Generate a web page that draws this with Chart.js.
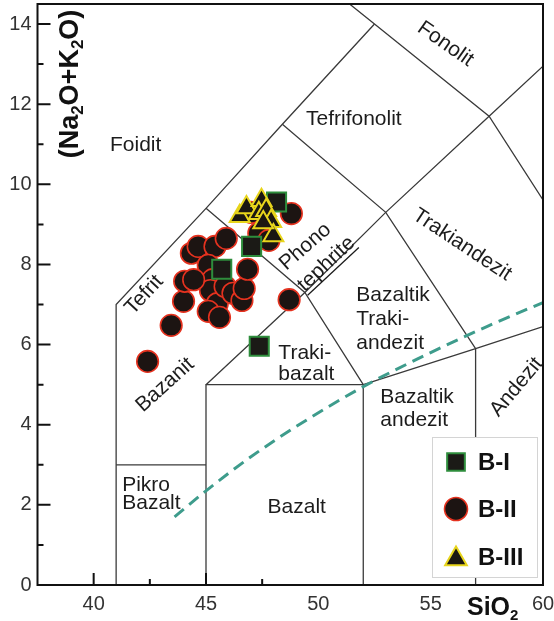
<!DOCTYPE html>
<html>
<head>
<meta charset="utf-8">
<title>TAS</title>
<script src="https://cdn.jsdelivr.net/npm/chart.js@4/dist/chart.umd.min.js"></script>
<style>
  html, body { margin: 0; padding: 0; background: #fff; }
  #c { display: block; }
</style>
</head>
<body>
<canvas id="c" width="554" height="621"></canvas>
<script>
// Total alkali vs silica (wt%) for three basalt groups
const groupNames = ['B-I', 'B-II', 'B-III'];

const bISiO2 = [47.37, 45.70, 47.03, 48.14];
const bIAlk  = [5.96, 7.88, 8.45, 9.56];

const bIISiO2 = [42.40, 43.45, 44.00, 44.05, 44.35, 44.65, 45.40, 45.90, 45.10, 45.30,
                 45.20, 45.50, 45.10, 45.60, 45.85, 46.20, 46.60, 46.70, 46.85, 48.70,
                 48.80, 47.35, 47.80, 47.00, 44.45];
const bIIAlk  = [5.58, 6.48, 7.08, 7.58, 8.28, 8.45, 8.45, 8.65, 7.98, 7.62,
                 7.35, 7.02, 6.83, 6.68, 7.45, 7.28, 7.10, 7.40, 7.88, 7.12,
                 9.27, 8.78, 8.60, 9.30, 7.62];

const bIIISiO2 = [46.50, 46.80, 47.47, 47.35, 47.68, 47.90, 48.00, 47.55];
const bIIIAlk  = [9.20, 9.42, 9.60, 9.28, 9.35, 9.08, 8.72, 9.05];

// Axis ticks
const xTicks = [40, 45, 50, 55, 60];
const xTickMarks = [40, 45];
const xMinorMarks = [42.5, 47.5];
const yTicks = [0, 2, 4, 6, 8, 10, 12, 14];
const yMinorMarks = [1, 3, 5, 7, 9, 11, 13];

// Field boundaries of the TAS classification (SiO2, Na2O+K2O)
const boundaries = [
  [[41, 0], [41, 7], [45, 9.4], [48.4, 11.5], [52.5, 14]],
  [[41, 3], [45, 3]],
  [[45, 0], [45, 5], [52, 5], [52, 0]],
  [[45, 5], [49.4, 7.3], [53, 9.3], [57.6, 11.7], [60, 12.95]],
  [[45, 9.4], [49.4, 7.3], [52, 5]],
  [[48.4, 11.5], [53, 9.3], [57, 5.9]],
  [[52, 5], [57, 5.9], [60, 6.45]],
  [[57, 0], [57, 5.9]],
  [[51.39, 14.5], [52.5, 14], [57.6, 11.7], [60, 9.61]]
];

// Alkaline / subalkaline dividing curve
const divideSiO2 = [43.6, 45.0, 47.0, 49.0, 52.0, 55.0, 57.5, 60.0];
const divideAlk  = [1.70, 2.35, 3.20, 3.95, 4.95, 5.80, 6.45, 7.05];

// Field names, placed in data units
const fieldNames = [
  { text: 'Foidit', x: 41.87, y: 10.98 },
  { text: 'Tefrifonolit', x: 51.58, y: 11.63 },
  { text: 'Fonolit', x: 55.66, y: 13.50, rot: 35 },
  { text: 'Trakiandezit', x: 56.40, y: 8.49, rot: 33.5 },
  { text: 'Phono', x: 49.42, y: 8.44, rot: -41 },
  { text: 'tephrite', x: 50.36, y: 8.01, rot: -43, underline: true },
  { text: 'Bazaltik', x: 51.69, y: 7.24, align: 'left' },
  { text: 'Traki-', x: 51.69, y: 6.64, align: 'left' },
  { text: 'andezit', x: 51.69, y: 6.04, align: 'left' },
  { text: 'Traki-', x: 48.22, y: 5.79, align: 'left' },
  { text: 'bazalt', x: 48.22, y: 5.27, align: 'left' },
  { text: 'Bazanit', x: 43.18, y: 4.99, rot: -42 },
  { text: 'Tefrit', x: 42.25, y: 7.24, rot: -47 },
  { text: 'Pikro', x: 41.27, y: 2.50, align: 'left' },
  { text: 'Bazalt', x: 41.27, y: 2.05, align: 'left' },
  { text: 'Bazalt', x: 49.04, y: 1.95 },
  { text: 'Bazaltik', x: 52.76, y: 4.69, align: 'left' },
  { text: 'andezit', x: 52.76, y: 4.12, align: 'left' },
  { text: 'Andezit', x: 58.82, y: 4.94, rot: -50 }
];

const FONT = '"Liberation Sans", Arial, Helvetica, sans-serif';
const LINE = '#3a3a3a';

const toPoints = (xs, ys) => xs.map((v, i) => ({ x: v, y: ys[i] }));

const markerStyles = [
  { pointStyle: 'rect', pointRadius: 13.5, borderColor: '#2e8d3c', backgroundColor: '#1b1a16', borderWidth: 2 },
  { pointStyle: 'circle', pointRadius: 10.8, borderColor: '#e5321f', backgroundColor: '#1c1412', borderWidth: 1.6 },
  { pointStyle: 'triangle', pointRadius: 11.5, borderColor: '#e8d51c', backgroundColor: '#1b1712', borderWidth: 2 }
];

const groupData = [toPoints(bISiO2, bIAlk), toPoints(bIISiO2, bIIAlk), toPoints(bIIISiO2, bIIIAlk)];
const groupOrder = [1, 2, 0];

const groupDatasets = groupNames.map((name, i) => Object.assign({
  label: name,
  data: groupData[i],
  order: groupOrder[i],
  pointHoverRadius: markerStyles[i].pointRadius
}, markerStyles[i]));

const boundaryDatasets = boundaries.map(line => ({
  type: 'line',
  data: line.map(p => ({ x: p[0], y: p[1] })),
  borderColor: LINE,
  borderWidth: 1.3,
  pointRadius: 0,
  fill: false,
  tension: 0,
  order: 10
}));

const divideDataset = {
  type: 'line',
  data: toPoints(divideSiO2, divideAlk),
  borderColor: '#3e9c8c',
  borderWidth: 3,
  borderDash: [12, 7],
  pointRadius: 0,
  fill: false,
  cubicInterpolationMode: 'monotone',
  order: 9
};

function drawRich(ctx, parts, x, y, bigFont, smallFont, drop) {
  let cx = x;
  parts.forEach(p => {
    ctx.font = p.sub ? smallFont : bigFont;
    ctx.fillText(p.t, cx, y + (p.sub ? drop : 0));
    cx += ctx.measureText(p.t).width;
  });
}

function richWidth(ctx, parts, bigFont, smallFont) {
  let w = 0;
  parts.forEach(p => { ctx.font = p.sub ? smallFont : bigFont; w += ctx.measureText(p.t).width; });
  return w;
}

function drawMarker(ctx, style, cx, cy) {
  ctx.save();
  ctx.fillStyle = style.backgroundColor;
  ctx.strokeStyle = style.borderColor;
  ctx.lineWidth = style.borderWidth;
  ctx.beginPath();
  const r = style.pointRadius;
  if (style.pointStyle === 'rect') {
    const s = r * Math.SQRT1_2;
    ctx.rect(cx - s, cy - s, 2 * s, 2 * s);
  } else if (style.pointStyle === 'circle') {
    ctx.arc(cx, cy, r, 0, Math.PI * 2);
  } else {
    for (let k = 0; k < 3; k++) {
      const ang = k * 2 * Math.PI / 3;
      const px = cx + Math.sin(ang) * r, py = cy - Math.cos(ang) * r;
      if (k === 0) ctx.moveTo(px, py); else ctx.lineTo(px, py);
    }
    ctx.closePath();
  }
  ctx.fill();
  ctx.stroke();
  ctx.restore();
}

const decor = {
  id: 'decor',
  afterDatasetsDraw(chart) {
    const { ctx, chartArea: a, scales } = chart;
    const sx = scales.x, sy = scales.y;
    ctx.save();

    // field names
    ctx.fillStyle = '#1c1c1c';
    ctx.strokeStyle = '#1c1c1c';
    ctx.font = '21px ' + FONT;
    ctx.textBaseline = 'middle';
    fieldNames.forEach(f => {
      ctx.save();
      ctx.translate(sx.getPixelForValue(f.x), sy.getPixelForValue(f.y));
      if (f.rot) ctx.rotate(f.rot * Math.PI / 180);
      ctx.textAlign = f.align || 'center';
      ctx.fillText(f.text, 0, 0);
      if (f.underline) {
        const w = ctx.measureText(f.text).width;
        ctx.lineWidth = 1.3;
        ctx.beginPath();
        ctx.moveTo(-w / 2, 10);
        ctx.lineTo(w / 2, 10);
        ctx.stroke();
      }
      ctx.restore();
    });

    // legend box
    const lx = 432, ly = 437, lw = 105, lh = 140;
    ctx.fillStyle = '#ffffff';
    ctx.fillRect(lx, ly, lw, lh);
    ctx.strokeStyle = '#d4d4d4';
    ctx.lineWidth = 1;
    ctx.strokeRect(lx + 0.5, ly + 0.5, lw, lh);
    const rowY = [462, 509, 557];
    const legendSizes = [12.5, 11.5, 12.5];
    groupNames.forEach((name, i) => {
      const st = Object.assign({}, markerStyles[i], { pointRadius: legendSizes[i] });
      drawMarker(ctx, st, 456, rowY[i] + (i === 2 ? 2 : 0));
      ctx.fillStyle = '#111';
      ctx.font = 'bold 24px ' + FONT;
      ctx.textAlign = 'left';
      ctx.textBaseline = 'middle';
      ctx.fillText(name, 478, rowY[i] + 1);
    });

    // plot frame
    ctx.strokeStyle = '#111';
    ctx.lineWidth = 2;
    ctx.strokeRect(a.left, a.top, a.right - a.left, a.bottom - a.top);

    // inward tick marks
    ctx.beginPath();
    yTicks.forEach(v => { const p = sy.getPixelForValue(v); ctx.moveTo(a.left, p); ctx.lineTo(a.left + 13, p); });
    yMinorMarks.forEach(v => { const p = sy.getPixelForValue(v); ctx.moveTo(a.left, p); ctx.lineTo(a.left + 6, p); });
    xTickMarks.forEach(v => { const p = sx.getPixelForValue(v); ctx.moveTo(p, a.bottom); ctx.lineTo(p, a.bottom - 12); });
    xMinorMarks.forEach(v => { const p = sx.getPixelForValue(v); ctx.moveTo(p, a.bottom); ctx.lineTo(p, a.bottom - 6); });
    ctx.stroke();

    // tick labels
    ctx.fillStyle = '#333';
    ctx.font = '20px ' + FONT;
    ctx.textAlign = 'right';
    ctx.textBaseline = 'middle';
    yTicks.forEach(v => ctx.fillText(String(v), a.left - 6, sy.getPixelForValue(v)));
    ctx.textAlign = 'center';
    ctx.textBaseline = 'top';
    xTicks.forEach(v => ctx.fillText(String(v), sx.getPixelForValue(v), a.bottom + 9));

    // axis titles
    ctx.fillStyle = '#111';
    ctx.textAlign = 'left';
    ctx.textBaseline = 'alphabetic';
    const yParts = [{ t: '(Na' }, { t: '2', sub: true }, { t: 'O+K' }, { t: '2', sub: true }, { t: 'O)' }];
    const big = 'bold 27px ' + FONT, small = 'bold 17px ' + FONT;
    const yw = richWidth(ctx, yParts, big, small);
    ctx.save();
    ctx.translate(a.left + 40, 84 + yw / 2);
    ctx.rotate(-Math.PI / 2);
    drawRich(ctx, yParts, 0, 0, big, small, 5);
    ctx.restore();

    const xParts = [{ t: 'SiO' }, { t: '2', sub: true }];
    drawRich(ctx, xParts, 467, 615, 'bold 25px ' + FONT, 'bold 15px ' + FONT, 5);

    ctx.restore();
  }
};

new Chart(document.getElementById('c'), {
  type: 'scatter',
  data: { datasets: [...groupDatasets, divideDataset, ...boundaryDatasets] },
  options: {
    responsive: false,
    animation: false,
    events: [],
    layout: { autoPadding: false, padding: { top: 4, right: 11, left: 0, bottom: 0 } },
    plugins: { legend: { display: false }, tooltip: { enabled: false } },
    scales: {
      x: {
        type: 'linear',
        min: 37.5,
        max: 60,
        grid: { display: false, drawTicks: false },
        border: { display: false },
        ticks: { display: false },
        afterFit: s => { s.height = 36; }
      },
      y: {
        type: 'linear',
        min: 0,
        max: 14.5,
        grid: { display: false, drawTicks: false },
        border: { display: false },
        ticks: { display: false },
        afterFit: s => { s.width = 37.5; }
      }
    }
  },
  plugins: [decor]
});
</script>
</body>
</html>
